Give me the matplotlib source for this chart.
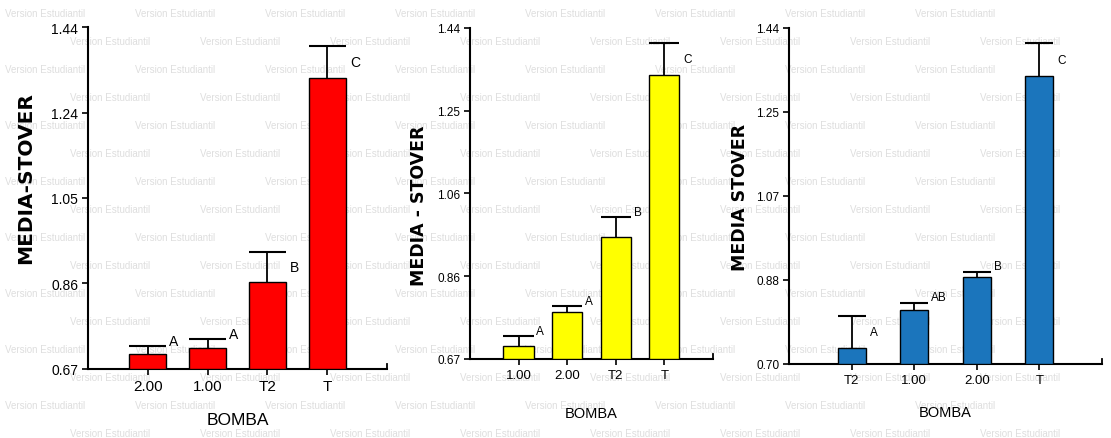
import matplotlib.pyplot as plt

plt.rcParams["font.family"] = ["Liberation Sans", "DejaVu Sans"]

# panel 1 (red)
cats_red = ["2.00", "1.00", "T2", "T"]
mean_red = [0.703, 0.717, 0.866, 1.326]
err_red = [0.018, 0.020, 0.068, 0.071]
let_red = ["A", "A", "B", "C"]
yt_red = ["0.67", "0.86", "1.05", "1.24", "1.44"]

# panel 2 (yellow)
cats_yel = ["1.00", "2.00", "T2", "T"]
mean_yel = [0.700, 0.779, 0.954, 1.330]
err_yel = [0.023, 0.014, 0.046, 0.075]
let_yel = ["A", "A", "B", "C"]
yt_yel = ["0.67", "0.86", "1.06", "1.25", "1.44"]

# panel 3 (blue)
cats_blu = ["T2", "1.00", "2.00", "T"]
mean_blu = [0.735, 0.819, 0.892, 1.334]
err_blu = [0.071, 0.016, 0.011, 0.073]
let_blu = ["A", "AB", "B", "C"]
yt_blu = ["0.70", "0.88", "1.07", "1.25", "1.44"]

fig = plt.figure(figsize=(11.11, 4.39), dpi=100)

# faint "Version Estudiantil" watermark, kept behind the axes
for r in range(16):
    y = 1 - (14 + r * 28) / 439
    shift = 65 if r % 2 else 0
    for c in range(9):
        x_px = 5 + shift + c * 130
        if x_px + 85 > 1111:
            continue
        fig.text(x_px / 1111, y, "Version Estudiantil", fontsize=7,
                 color="#dedede", va="center", ha="left", zorder=-1)


def panel(rect, cats, means, errs, letters, ylabels, ymin, color, width,
          ylab, tick_fs, lab_fs, ylab_xy, xlpad):
    ax = fig.add_axes(rect)
    ax.patch.set_alpha(0)
    xs = [1, 2, 3, 4]
    ax.bar(xs, [m - ymin for m in means], bottom=ymin, width=width,
           color=color, edgecolor="black", linewidth=1.0, zorder=3)
    # upper error bars only, cap as wide as the bar
    tops = [m + e for m, e in zip(means, errs)]
    ax.vlines(xs, means, tops, color="black", lw=1.3, zorder=2)
    ax.hlines(tops, [x - width / 2 for x in xs], [x + width / 2 for x in xs],
              color="black", lw=1.5, zorder=2)
    ax.set_xlim(0, 5)
    ax.set_ylim(ymin, 1.44)
    step = (1.44 - ymin) / 4
    ax.set_yticks([ymin + i * step for i in range(5)])
    ax.set_yticklabels(ylabels, fontsize=tick_fs)
    ax.set_xticks(xs)
    ax.set_xticklabels(cats, fontsize=tick_fs + 1)
    ax.tick_params(axis="both", length=4, width=1.2, direction="out", pad=3)
    rng = 1.44 - ymin
    for x, m, e, t in zip(xs, means, errs, letters):
        if e / rng < 0.06:
            ax.annotate(t, (x + width / 2, m + e), xytext=(2, 4),
                        textcoords="offset points", fontsize=tick_fs,
                        ha="left", va="center")
        else:
            ax.annotate(t, (x + width / 2, m + e / 2), xytext=(3, 0),
                        textcoords="offset points", fontsize=tick_fs,
                        ha="left", va="center")
    for s in ["top", "right"]:
        ax.spines[s].set_visible(False)
    for s in ["left", "bottom"]:
        ax.spines[s].set_linewidth(1.5)
    ax.plot([5, 5], [ymin, ymin + rng * 0.015], color="black", lw=1.3,
            clip_on=False)
    ax.set_xlabel("BOMBA", fontsize=lab_fs - 2, labelpad=xlpad)
    ax.set_ylabel(ylab, fontsize=lab_fs, fontweight="bold",
                  family="DejaVu Sans")
    ax.yaxis.set_label_coords(*ylab_xy)
    return ax


panel([0.0792, 0.1572, 0.2691, 0.779], cats_red, mean_red, err_red, let_red,
      yt_red, 0.67, "#ff0000", 0.62, "MEDIA-STOVER", 10, 14.5,
      (-0.178, 0.56), 14)
panel([0.4230, 0.1800, 0.2187, 0.754], cats_yel, mean_yel, err_yel, let_yel,
      yt_yel, 0.67, "#ffff00", 0.62, "MEDIA - STOVER", 8.5, 12.5,
      (-0.173, 0.465), 18)
panel([0.7102, 0.1686, 0.2817, 0.7654], cats_blu, mean_blu, err_blu, let_blu,
      yt_blu, 0.70, "#1b75bc", 0.45, "MEDIA STOVER", 8.5, 12.5,
      (-0.128, 0.5), 14)

plt.savefig("out.png", dpi=100)
plt.close()
